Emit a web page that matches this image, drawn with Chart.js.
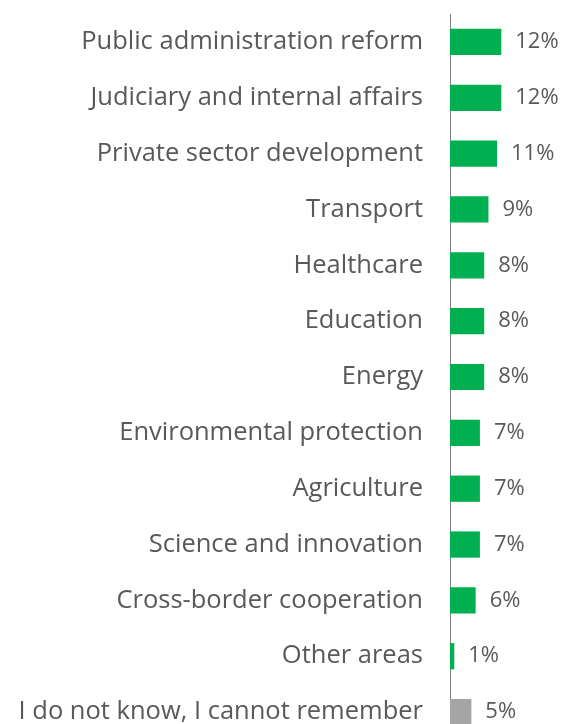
<!DOCTYPE html>
<html>
<head>
<meta charset="utf-8">
<script src="https://cdn.jsdelivr.net/npm/chart.js@4/dist/chart.umd.min.js"></script>
<style>
  html, body { margin: 0; padding: 0; background: #fff; overflow: hidden; }
  canvas { display: block; }
</style>
</head>
<body>
<canvas id="chart" width="567" height="740"></canvas>
<script>
const categories = [
    'Public administration reform',
    'Judiciary and internal affairs',
    'Private sector development',
    'Transport',
    'Healthcare',
    'Education',
    'Energy',
    'Environmental protection',
    'Agriculture',
    'Science and innovation',
    'Cross-border cooperation',
    'Other areas',
    'I do not know, I cannot remember'
];
const shares = [12, 12, 11, 9, 8, 8, 8, 7, 7, 7, 6, 1, 5];
const barColors = shares.map((v, i) => i === shares.length - 1 ? '#A5A5A5' : '#00B050');

const textColor = '#595959';
const fontFamily = "'Open Sans', sans-serif";

// draws the % labels just past the end of each bar
const valueLabels = {
    id: 'valueLabels',
    afterDatasetsDraw(chart) {
        const ctx = chart.ctx;
        const meta = chart.getDatasetMeta(0);
        ctx.save();
        ctx.font = '22px ' + fontFamily;
        ctx.fillStyle = textColor;
        ctx.textAlign = 'left';
        ctx.textBaseline = 'middle';
        meta.data.forEach((bar, i) => {
            ctx.fillText(shares[i] + '%', bar.x + 14, bar.y);
        });
        ctx.restore();
    }
};

const ctx = document.getElementById('chart').getContext('2d');
const chart = new Chart(ctx, {
    type: 'bar',
    data: {
        labels: categories,
        datasets: [{
            data: shares,
            backgroundColor: barColors,
            categoryPercentage: 1,
            barPercentage: 0.47,
            clip: false
        }]
    },
    options: {
        indexAxis: 'y',
        responsive: false,
        animation: false,
        layout: {
            padding: { top: 14, right: 8, left: 0, bottom: 0 }
        },
        scales: {
            x: {
                display: false,
                min: 0,
                max: 25.5
            },
            y: {
                grid: { display: false, drawTicks: false },
                border: { display: true, color: '#7F7F7F', width: 1 },
                afterFit(scale) {
                    // fixed label column, no extra room above/below for labels
                    scale.width = 450;
                    scale.paddingTop = 0;
                    scale.paddingBottom = 0;
                },
                ticks: {
                    color: textColor,
                    padding: 27,
                    autoSkip: false,
                    font: { family: fontFamily, size: 25.5 }
                }
            }
        },
        plugins: {
            legend: { display: false },
            tooltip: { enabled: false }
        }
    },
    plugins: [valueLabels]
});
</script>
</body>
</html>
